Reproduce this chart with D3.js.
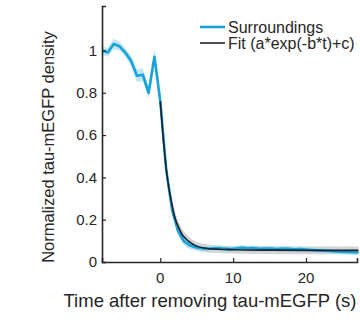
<!DOCTYPE html>
<html>
<head>
<meta charset="utf-8">
<script src="https://cdn.jsdelivr.net/npm/d3@7"></script>
<style>
  body { margin: 0; background: #fff; }
  text { font-family: "Liberation Sans", Arial, sans-serif; fill: #262626; }
</style>
</head>
<body>
<div id="chart"></div>
<script>
// surroundings trace (mean and shaded error)
var timeS = [-8, -7.2, -6.4, -5.6, -4.8, -4, -3.2, -2.4, -1.6, -0.8, 0,
  0.8, 1.6, 2.4, 3.2, 4, 4.8, 5.6, 6.4, 7.2, 8, 8.8, 9.6, 10.4, 11.2, 12,
  12.8, 13.6, 14.4, 15.2, 16, 16.8, 17.6, 18.4, 19.2, 20, 20.8, 21.6, 22.4,
  23.2, 24, 24.8, 25.6, 26.4, 27.2];
var surround = [1.00, 0.99, 1.03, 1.02, 0.99, 0.95, 0.88, 0.885, 0.80, 0.97, 0.76,
  0.44, 0.25, 0.15, 0.10, 0.08, 0.07, 0.065, 0.062, 0.064, 0.066, 0.063, 0.061, 0.064, 0.067, 0.065,
  0.066, 0.062, 0.064, 0.063, 0.061, 0.063, 0.062, 0.060, 0.061, 0.059, 0.057, 0.055, 0.053,
  0.052, 0.050, 0.049, 0.048, 0.046, 0.045];
var surroundErr = [0.02, 0.02, 0.025, 0.02, 0.02, 0.025, 0.03, 0.03, 0.03, 0.035, 0.03,
  0.03, 0.025, 0.02, 0.02, 0.018, 0.015, 0.013, 0.012, 0.012, 0.012, 0.012, 0.012, 0.012, 0.012, 0.012,
  0.012, 0.012, 0.012, 0.012, 0.012, 0.012, 0.012, 0.012, 0.012, 0.012, 0.012, 0.012, 0.012,
  0.012, 0.012, 0.012, 0.012, 0.012, 0.012];

// fit curve
var timeF = [0, 0.5, 1, 1.5, 2, 2.5, 3, 3.5, 4, 5, 6, 8, 10, 15, 20, 27.2];
var fit = [0.76, 0.55, 0.39, 0.29, 0.21, 0.165, 0.13, 0.11, 0.095, 0.075, 0.066, 0.060, 0.058, 0.056, 0.055, 0.055];
var fitErr = [0.03, 0.035, 0.035, 0.03, 0.03, 0.028, 0.026, 0.024, 0.022, 0.02, 0.02, 0.018, 0.018, 0.018, 0.018, 0.018];

var xTicks = [0, 10, 20];
var yTicks = [0, 0.2, 0.4, 0.6, 0.8, 1];
var legendLabels = ["Surroundings", "Fit (a*exp(-b*t)+c)"];

var blue = "#17a2d8", dark = "#1b1f2a";
var width = 360, height = 327;
var margin = {top: 6, right: 3, bottom: 65, left: 102};

var x = d3.scaleLinear().domain([-8, 27]).range([margin.left, width - margin.right]);
var y = d3.scaleLinear().domain([0, 1.21]).range([height - margin.bottom, margin.top]);

var svg = d3.select("#chart").append("svg")
  .attr("width", width)
  .attr("height", height);

var sData = timeS.map(function(t, i) { return {t: t, v: surround[i], e: surroundErr[i]}; });
var fData = timeF.map(function(t, i) { return {t: t, v: fit[i], e: fitErr[i]}; });

// shaded bands
svg.append("path")
  .datum(fData)
  .attr("fill", "#c9c9cc")
  .attr("opacity", 0.8)
  .attr("d", d3.area().curve(d3.curveMonotoneX)
    .x(function(d) { return x(d.t); })
    .y0(function(d) { return y(d.v - d.e); })
    .y1(function(d) { return y(d.v + d.e); }));

svg.append("path")
  .datum(sData)
  .attr("fill", "#a9def3")
  .attr("opacity", 0.75)
  .attr("d", d3.area()
    .x(function(d) { return x(d.t); })
    .y0(function(d) { return y(d.v - d.e); })
    .y1(function(d) { return y(d.v + d.e); }));

// lines
svg.append("path")
  .datum(sData)
  .attr("fill", "none")
  .attr("stroke", blue)
  .attr("stroke-width", 2.6)
  .attr("stroke-linejoin", "round")
  .attr("d", d3.line()
    .x(function(d) { return x(d.t); })
    .y(function(d) { return y(d.v); }));

svg.append("path")
  .datum(fData)
  .attr("fill", "none")
  .attr("stroke", dark)
  .attr("stroke-width", 1.6)
  .attr("d", d3.line().curve(d3.curveMonotoneX)
    .x(function(d) { return x(d.t); })
    .y(function(d) { return y(d.v); }));

// axes, ticks pointing inward
var xAxis = d3.axisTop(x).tickValues(xTicks).tickSize(4).tickFormat("");
var xAxisG = svg.append("g")
  .attr("transform", "translate(0," + y(0) + ")")
  .call(xAxis);

var yAxis = d3.axisRight(y).tickValues(yTicks).tickSize(4).tickFormat("");
var yAxisG = svg.append("g")
  .attr("transform", "translate(" + x(-8) + ",0)")
  .call(yAxis);

[xAxisG, yAxisG].forEach(function(g) {
  g.select(".domain").attr("stroke", "#262626").attr("stroke-width", 1.6);
  g.selectAll(".tick line").attr("stroke", "#262626").attr("stroke-width", 1.2);
});

svg.selectAll(".xlab").data(xTicks).enter().append("text")
  .attr("x", function(d) { return x(d); })
  .attr("y", y(0) + 21)
  .attr("text-anchor", "middle")
  .style("font-size", "15px")
  .text(function(d) { return d; });

svg.selectAll(".ylab").data(yTicks).enter().append("text")
  .attr("x", x(-8) - 5)
  .attr("y", function(d) { return y(d); })
  .attr("dy", "0.35em")
  .attr("text-anchor", "end")
  .style("font-size", "15px")
  .text(function(d) { return d; });

// axis titles
svg.append("text")
  .attr("x", 210)
  .attr("y", 307)
  .attr("text-anchor", "middle")
  .style("font-size", "18.5px")
  .text("Time after removing tau-mEGFP (s)");

svg.append("text")
  .attr("transform", "translate(54,147) rotate(-90)")
  .attr("text-anchor", "middle")
  .style("font-size", "16.5px")
  .text("Normalized tau-mEGFP density");

// legend
var legend = svg.append("g");
legendLabels.forEach(function(l, i) {
  var ly = 27 + i * 16;
  legend.append("line")
    .attr("x1", 200).attr("x2", 225)
    .attr("y1", ly).attr("y2", ly)
    .attr("stroke", i === 0 ? blue : dark)
    .attr("stroke-width", i === 0 ? 2.6 : 1.6);
  legend.append("text")
    .attr("x", 228)
    .attr("y", ly)
    .attr("dy", "0.35em")
    .style("font-size", "16px")
    .text(l);
});
</script>
</body>
</html>
